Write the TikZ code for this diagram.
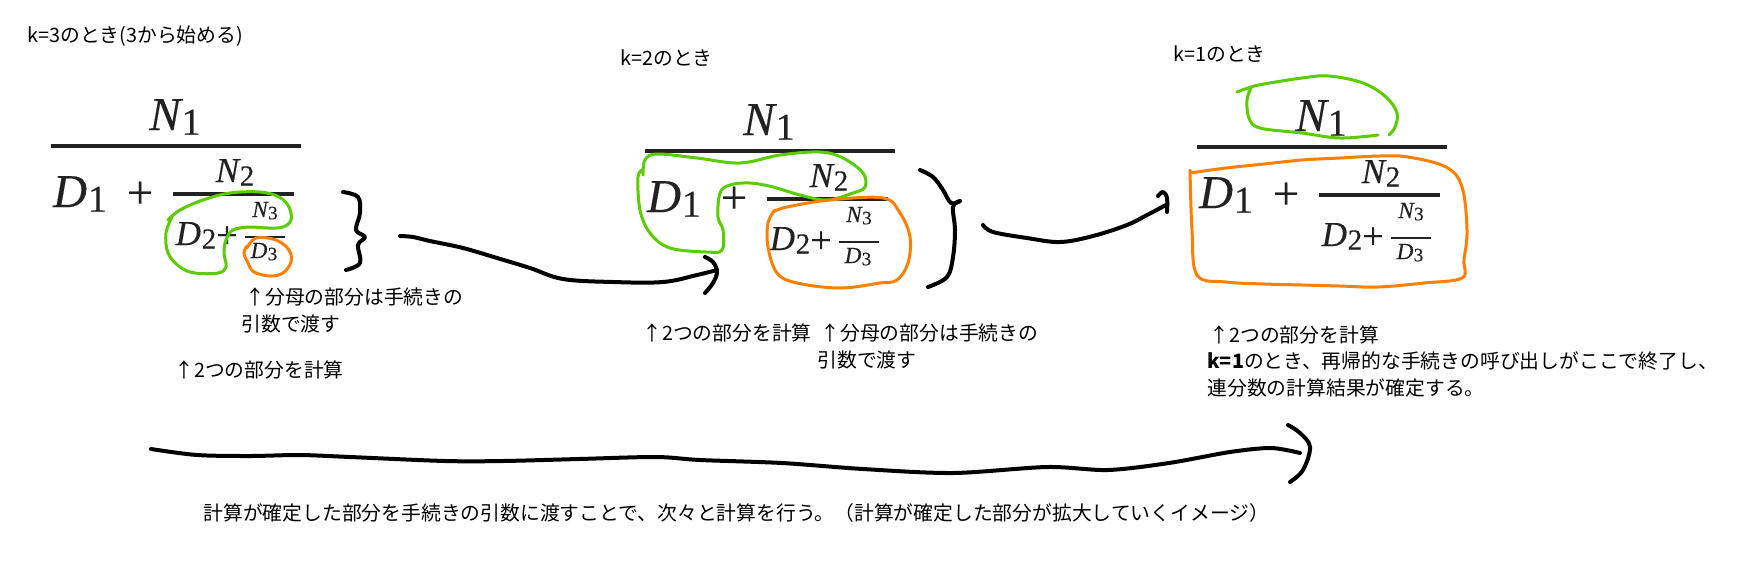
\documentclass[tikz,border=0pt]{standalone}
\usepackage{fontspec}
\newfontfamily\jp{Noto Sans CJK JP}
\newfontfamily\tms[FakeBold=0.3]{Liberation Serif}
\definecolor{hgreen}{RGB}{90,204,2}
\definecolor{horange}{RGB}{255,128,0}
\definecolor{mathc}{RGB}{34,34,34}
\newcommand\VV[4]{{\tms\fontsize{#1}{#1}\selectfont\itshape #3\kern0.02em\raisebox{-0.1em}{\fontsize{#2}{#2}\selectfont\upshape #4}}}
\newcommand\PL[1]{{\tms\fontsize{#1}{#1}\selectfont +}}
\tikzset{
  mth/.style={inner sep=0pt,anchor=base,text=mathc},
  bar/.style={draw=mathc,line width=1.8pt},
  barb/.style={draw=mathc,line width=1.3pt},
  txt/.style={inner sep=0pt,anchor=west,font=\jp\fontsize{9.9}{11}\selectfont},
  gl/.style={draw=hgreen,line width=1.5pt,line cap=round,line join=round},
  ol/.style={draw=horange,line width=1.5pt,line cap=round,line join=round},
  ink/.style={draw=black,line width=2pt,line cap=round,line join=round},
}
\newcommand\CF[3]{%
\begin{scope}[shift={(#2,#3)}]
\node[mth] (#1n1) at (124,-16) {\VV{23.5}{19}{N}{1}};
\draw[bar] (0,0) -- (250,0);
\node[mth] (#1d1) at (29,61) {\VV{23.5}{19}{D}{1}};
\node[mth,anchor=center] (#1p1) at (89,49) {\PL{23.5}};
\node[mth] (#1n2) at (184,36) {\VV{17.5}{14.5}{N}{2}};
\draw[bar] (122,48) -- (243,48);
\node[mth] (#1d2) at (145,99) {\VV{17.5}{14.5}{D}{2}};
\node[mth,anchor=center] (#1p2) at (176,91) {\PL{19}};
\node[mth] (#1n3) at (214,71) {\VV{11.5}{9.5}{N}{3}};
\draw[barb] (194,91) -- (234,91);
\node[mth] (#1d3) at (213,112) {\VV{11.5}{9.5}{D}{3}};
\end{scope}}
\begin{document}
\begin{tikzpicture}[x=0.5pt,y=-0.5pt]
\useasboundingbox[fill=white] (0,0) rectangle (1746,580);
% fractions
\CF{a}{51}{146}
\CF{b}{645}{151}
\CF{c}{1197}{147}
% headings
\node[txt] (k3) at (27,36) {k=3のとき(3から始める)};
\node[txt] (k2) at (620,58) {k=2のとき};
\node[txt] (k1) at (1173,54) {k=1のとき};
% annotations copy 1
\node[txt] (a1) at (245,297) {↑分母の部分は手続きの};
\node[txt] (a2) at (241,324) {引数で渡す};
\node[txt] (a3) at (174,370) {↑2つの部分を計算};
% annotations copy 2
\node[txt] (b3) at (642,333) {↑2つの部分を計算};
\node[txt] (b1) at (820,333) {↑分母の部分は手続きの};
\node[txt] (b2) at (817,360) {引数で渡す};
% annotations copy 3
\node[txt] (c3) at (1209,335) {↑2つの部分を計算};
\node[txt] (c4) at (1207,361) {\textbf{k=1}のとき、再帰的な手続きの呼び出しがここで終了し、};
\node[txt] (c5) at (1207,388) {連分数の計算結果が確定する。};
% bottom
\node[txt] (bt) at (203,513) {計算が確定した部分を手続きの引数に渡すことで、次々と計算を行う。（計算が確定した部分が拡大していくイメージ）};
% copy 1 loops
\draw[gl] plot[smooth,tension=0.6] coordinates {(168,220) (180,210) (203,200) (230,193) (260,192) (279,197) (289,207) (291,220) (283,227) (268,228) (249,227) (233,230) (226,240) (224,253) (226,267) (218,273) (195,273) (180,267) (168,253) (166,233) (172,217)};
\draw[ol] plot[smooth,tension=0.6] coordinates {(247,248) (256,238) (276,240) (289,250) (291,262) (283,273) (270,276) (254,272) (248,263) (244,253) (247,246)};
\draw[ink] plot[smooth,tension=0.6] coordinates {(343,192) (358,197) (360,213) (356,230) (365,237) (358,245) (360,263) (346,270)};
% arrow 1 -> 2
\draw[ink] plot[smooth,tension=0.6] coordinates {(400,236) (413,237) (430,241) (463,248) (497,258) (530,268) (563,279) (613,282) (663,282) (697,275) (717,270)};
\draw[ink] plot[smooth,tension=0.6] coordinates {(705,257) (713,262) (717,272) (713,283) (705,293)};
% copy 2 loops
\draw[gl] plot[smooth,tension=0.6] coordinates {(643,175) (645,160) (657,154) (697,158) (740,163) (780,155) (820,152) (843,158) (863,173) (865,187) (853,193) (827,200) (800,195) (773,187) (750,183) (730,185) (720,193) (718,217) (723,230) (722,250) (707,252) (670,248) (650,233) (640,210) (638,177) (643,170)};
\draw[ol] plot[smooth,tension=0.6] coordinates {(773,212) (787,207) (830,200) (883,198) (900,213) (910,237) (908,263) (897,280) (880,283) (840,288) (797,283) (777,273) (768,247) (768,223) (775,210)};
\draw[ink] plot[smooth,tension=0.6] coordinates {(920,170) (933,177) (943,190) (951,203) (960,201)};
\draw[ink] plot[smooth,tension=0.6] coordinates {(960,201) (953,207) (955,230) (953,257) (947,277) (928,287)};
% arrow 2 -> 3
\draw[ink] plot[smooth,tension=0.6] coordinates {(983,225) (993,232) (1027,238) (1060,242) (1093,236) (1127,225) (1147,215) (1166,205)};
\draw[ink] plot[smooth,tension=0.6] coordinates {(1158,196) (1163,192) (1167,198) (1167,212)};
% copy 3 loops
\draw[gl] plot[smooth,tension=0.6] coordinates {(1237,92) (1251,87) (1264,84) (1302,78) (1329,76) (1363,83) (1386,97) (1397,113) (1395,127) (1389,135)};
\draw[gl] plot[smooth,tension=0.6] coordinates {(1251,88) (1247,100) (1249,118) (1260,128) (1302,133) (1340,138) (1378,135)};
\draw[ol] plot[smooth,tension=0.6] coordinates {(1190,173) (1226,168) (1264,164) (1302,160) (1340,158) (1380,156) (1408,157) (1446,167) (1462,187) (1467,230) (1464,260) (1462,278) (1424,283) (1378,287) (1340,286) (1302,285) (1264,284) (1226,282) (1197,275) (1192,230) (1190,170)};
% bottom arrow
\draw[ink] plot[smooth,tension=0.5] coordinates {(151,449) (197,455) (250,456) (300,455) (350,457) (445,461) (503,461) (579,459) (656,457) (700,460) (782,463) (863,469) (953,473) (1047,467) (1108,470) (1169,463) (1230,452) (1271,448) (1300,453)};
\draw[ink] plot[smooth,tension=0.6] coordinates {(1288,425) (1300,433) (1310,447) (1303,470) (1290,482)};
\end{tikzpicture}
\end{document}
